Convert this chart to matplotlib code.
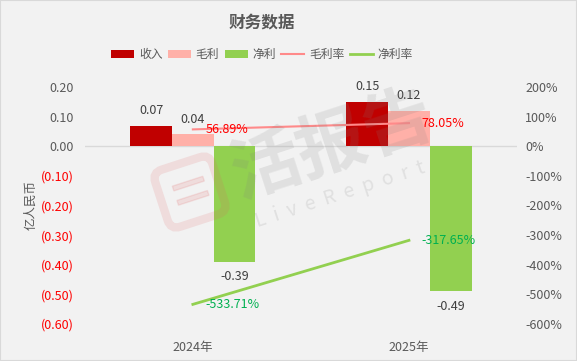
import numpy as np
import matplotlib.pyplot as plt
from matplotlib.patches import Rectangle, FancyBboxPatch
from matplotlib.transforms import Affine2D

plt.rcParams['font.family'] = ['Noto Sans CJK SC', 'DejaVu Sans']

years = ['2024年', '2025年']
revenue = [0.07, 0.15]
gross = [0.04, 0.12]
net = [-0.39, -0.49]
gross_margin = [56.89, 78.05]
net_margin = [-533.71, -317.65]
left_ticks = [0.2, 0.1, 0.0, -0.1, -0.2, -0.3, -0.4, -0.5, -0.6]
right_ticks = [200, 100, 0, -100, -200, -300, -400, -500, -600]

c_rev = '#C00000'
c_gross = '#FFB0A8'
c_net = '#92D050'
c_gm = '#FF8A8A'
c_nm = '#92D050'
txt = '#595959'

fig = plt.figure(figsize=(5.77, 3.61), dpi=100, facecolor='#F2F2F2')
fig.add_artist(Rectangle((0, 0), 1, 1, transform=fig.transFigure, fill=False,
                         edgecolor='#D9D9D9', linewidth=1.5))
ax = fig.add_axes([0.147, 0.1025, 0.749, 0.6565])
ax.set_facecolor('none')
x = np.arange(len(years))
w = 0.193

b1 = ax.bar(x - w, revenue, w, color=c_rev, label='收入')
b2 = ax.bar(x, gross, w, color=c_gross, label='毛利')
b3 = ax.bar(x + w, net, w, color=c_net, label='净利')

for bars, vals in ((b1, revenue), (b2, gross), (b3, net)):
    for b, v in zip(bars, vals):
        off = 6 if v >= 0 else -6
        ax.annotate(f'{v:.2f}', (b.get_x() + b.get_width() / 2, v), xytext=(0, off),
                    textcoords='offset points', ha='center',
                    va='bottom' if v >= 0 else 'top', fontsize=9, color='#404040')

ax.set_xlim(-0.5, 1.5)
ax.set_ylim(-0.6, 0.2)
ax.set_yticks(left_ticks)
ax.set_yticklabels([f'{v:.2f}' if v >= 0 else f'({abs(v):.2f})' for v in left_ticks])
for lab, v in zip(ax.get_yticklabels(), left_ticks):
    lab.set_color(txt if v >= 0 else '#FF0000')
ax.set_xticks(x)
ax.set_xticklabels(years, fontsize=9, color=txt)
ax.tick_params(axis='x', length=0, pad=12)
ax.tick_params(axis='y', length=0, labelsize=9, pad=8)
for s in ax.spines.values():
    s.set_visible(False)
ax.axhline(0, color='#D9D9D9', linewidth=1, zorder=0)
ax.set_ylabel('亿人民币', fontsize=9, color=txt)
ax.yaxis.set_label_coords(-0.11, 0.5)

ax2 = ax.twinx()
ax2.set_ylim(-600, 200)
ax2.set_yticks(right_ticks)
ax2.set_yticklabels([f'{v}%' for v in right_ticks])
ax2.tick_params(axis='y', length=0, labelsize=9, labelcolor=txt, pad=6)
for s in ax2.spines.values():
    s.set_visible(False)
l1, = ax2.plot(x, gross_margin, color=c_gm, linewidth=1.5, label='毛利率')
l2, = ax2.plot(x, net_margin, color=c_nm, linewidth=2, label='净利率')
for xi, v in zip(x, gross_margin):
    ax2.annotate(f'{v:.2f}%', (xi, v), xytext=(9, 0), textcoords='offset points',
                 ha='left', va='center', fontsize=9, color='#FF0000')
for xi, v in zip(x, net_margin):
    ax2.annotate(f'{v:.2f}%', (xi, v), xytext=(9, 0), textcoords='offset points',
                 ha='left', va='center', fontsize=9, color='#00B050')

# watermark
fig.text(332 / 577, 1 - 145 / 361, '活报告', fontsize=50, color='#808080', alpha=0.16,
         rotation=18, ha='center', va='center', fontweight='bold')
fig.text(340 / 577, 1 - 195 / 361, 'L  i  v  e  R  e  p  o  r  t', fontsize=14,
         color='#808080', alpha=0.16, rotation=18, ha='center', va='center')
rot = Affine2D().rotate_deg_around(190, 361 - 192, 18)
logo = FancyBboxPatch((160, 361 - 222), 60, 60, boxstyle='round,pad=0,rounding_size=10',
                      fill=False, edgecolor='#E06060', linewidth=6, alpha=0.15,
                      transform=rot, figure=fig)
fig.add_artist(logo)
for yy in (361 - 186, 361 - 201):
    fig.add_artist(Rectangle((175, yy), 32, 5, color='#E06060', alpha=0.15,
                             transform=rot, figure=fig))

fig.text(262 / 577, 0.938, '财务数据', ha='center', va='center', fontsize=12,
         fontweight='bold', color=txt)
fig.legend(handles=[b1, b2, b3, l1, l2], loc='center', bbox_to_anchor=(262 / 577, 0.848),
           ncol=5, frameon=False, fontsize=8.5, handlelength=1.95, handleheight=0.6,
           columnspacing=0.45, handletextpad=0.42, labelcolor=txt)

plt.savefig('out.png', dpi=100, facecolor=fig.get_facecolor())
